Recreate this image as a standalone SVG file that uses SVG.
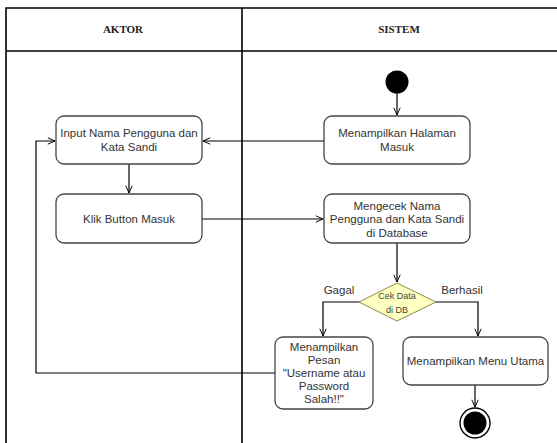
<svg xmlns="http://www.w3.org/2000/svg" width="557" height="443" viewBox="0 0 557 443">
  <defs>
    <marker id="arr" viewBox="0 0 10 10" refX="10" refY="5" markerWidth="8" markerHeight="8" orient="auto" markerUnits="userSpaceOnUse">
      <path d="M1,1 L10,5 L1,9" fill="none" stroke="#000" stroke-width="1.2"/>
    </marker>
    <style>
      .lane { fill: none; stroke: #000; stroke-width: 1.6; }
      .hdr { font-family: "Liberation Serif", serif; font-weight: bold; font-size: 11px; fill: #222; text-anchor: middle; }
      .box { fill: #fff; stroke: #444; stroke-width: 1.3; }
      .lbl { font-family: "Liberation Sans", Arial, sans-serif; font-size: 11.5px; fill: #333; text-anchor: middle; }
      .small { font-family: "Liberation Sans", Arial, sans-serif; font-size: 9px; fill: #444; text-anchor: middle; }
      .edge { fill: none; stroke: #000; stroke-width: 1.2; }
    </style>
  </defs>
  <rect width="557" height="443" fill="#fff"/>

  <!-- swimlanes -->
  <g id="lanes">
    <path class="lane" d="M6,443 V8 H557 M6,51 H557 M242,8 V443"/>
    <text class="hdr" x="123" y="33">AKTOR</text>
    <text class="hdr" x="399" y="33">SISTEM</text>
  </g>

  <!-- connectors -->
  <g id="connectors">
    <path class="edge" d="M397,93 V115" marker-end="url(#arr)"/>
    <path class="edge" d="M324,141 H203" marker-end="url(#arr)"/>
    <path class="edge" d="M129,164 V193" marker-end="url(#arr)"/>
    <path class="edge" d="M202,219 H323" marker-end="url(#arr)"/>
    <path class="edge" d="M397,243 V282" marker-end="url(#arr)"/>
    <path class="edge" d="M359,302 H323 V336" marker-end="url(#arr)"/>
    <path class="edge" d="M436,302 H478 V336" marker-end="url(#arr)"/>
    <path class="edge" d="M275,373 H36 V141 H55" marker-end="url(#arr)"/>
    <path class="edge" d="M475,385 V407" marker-end="url(#arr)"/>
    <text class="lbl" x="339" y="294">Gagal</text>
    <text class="lbl" x="462" y="294">Berhasil</text>
  </g>

  <g id="start">
    <circle cx="397" cy="82" r="11.5" fill="#000"/>
  </g>

  <g id="input">
    <rect class="box" x="56" y="116" width="146" height="48" rx="8"/>
    <text class="lbl" x="129" y="137">Input Nama Pengguna dan</text>
    <text class="lbl" x="129" y="151">Kata Sandi</text>
  </g>

  <g id="klik">
    <rect class="box" x="56" y="194" width="146" height="49" rx="8"/>
    <text class="lbl" x="129" y="223">Klik Button Masuk</text>
  </g>

  <g id="halaman">
    <rect class="box" x="324" y="116" width="146" height="48" rx="8"/>
    <text class="lbl" x="397" y="137">Menampilkan Halaman</text>
    <text class="lbl" x="397" y="151">Masuk</text>
  </g>

  <g id="mengecek">
    <rect class="box" x="324" y="194" width="146" height="49" rx="8"/>
    <text class="lbl" x="397" y="210">Mengecek Nama</text>
    <text class="lbl" x="397" y="223">Pengguna dan Kata Sandi</text>
    <text class="lbl" x="397" y="237">di Database</text>
  </g>

  <g id="cek">
    <polygon points="397,283 436,302 397,321 359,302" fill="#ffffc0" stroke="#8a8a50" stroke-width="1"/>
    <text class="small" x="397" y="299">Cek Data</text>
    <text class="small" x="397" y="313">di DB</text>
  </g>

  <g id="pesan">
    <rect class="box" x="275" y="337" width="98" height="72" rx="8"/>
    <text class="lbl" x="324" y="351">Menampilkan</text>
    <text class="lbl" x="324" y="364">Pesan</text>
    <text class="lbl" x="324" y="377">"Username atau</text>
    <text class="lbl" x="324" y="390">Password</text>
    <text class="lbl" x="324" y="403">Salah!!"</text>
  </g>

  <g id="menu">
    <rect class="box" x="403" y="337" width="145" height="48" rx="8"/>
    <text class="lbl" x="475.5" y="365">Menampilkan Menu Utama</text>
  </g>

  <g id="end">
    <circle cx="475" cy="423" r="15" fill="#fff" stroke="#000" stroke-width="1.4"/>
    <circle cx="475" cy="423" r="11.5" fill="#000"/>
  </g>
</svg>
